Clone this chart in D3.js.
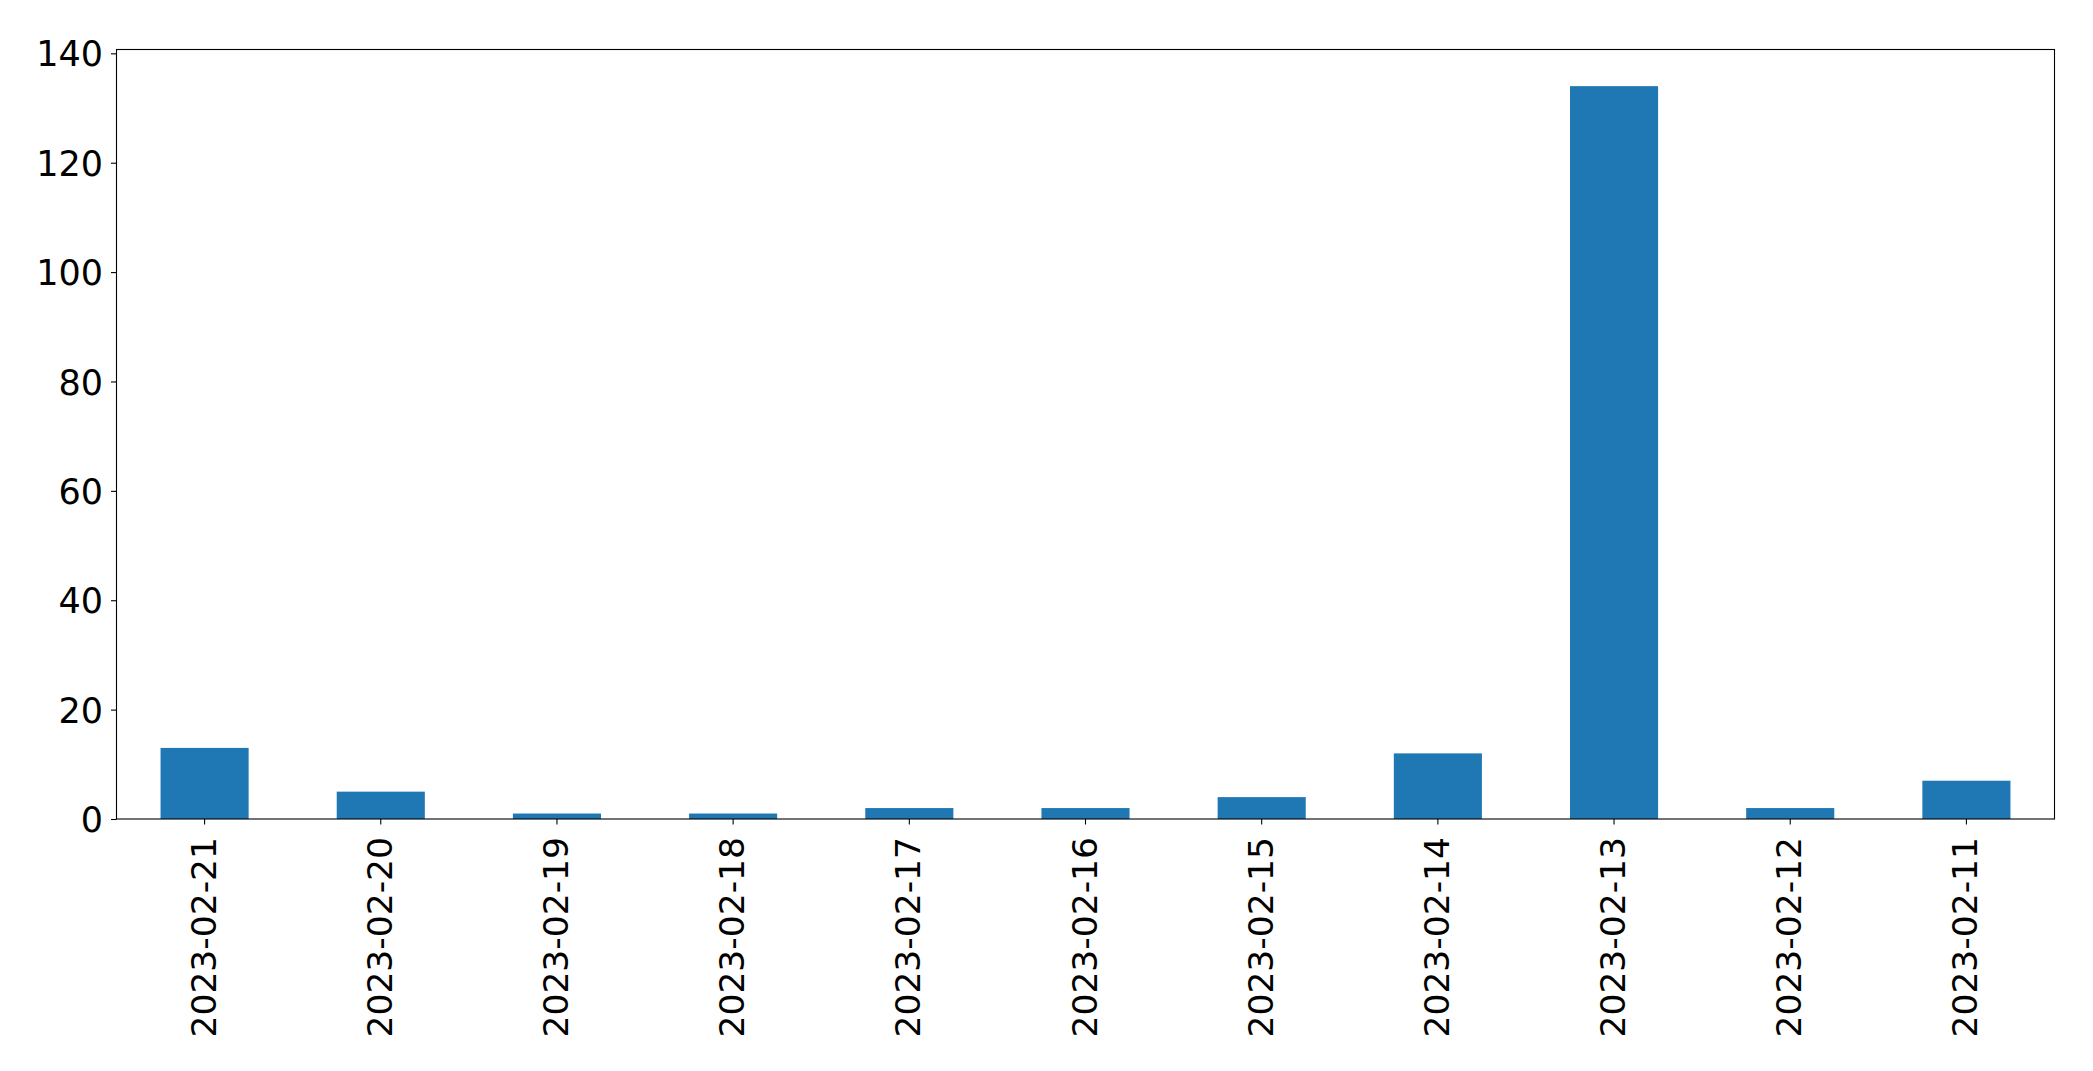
<!DOCTYPE html>
<html><head><meta charset="utf-8">
<script src="https://d3js.org/d3.v7.min.js"></script>
<style>body{margin:0;background:#fff}svg{display:block}text{font-family:"DejaVu Sans",sans-serif}</style>
</head><body>
<svg id="c" width="2093" height="1071"></svg>
<script>
const categories = ["2023-02-21","2023-02-20","2023-02-19","2023-02-18","2023-02-17","2023-02-16","2023-02-15","2023-02-14","2023-02-13","2023-02-12","2023-02-11"];
const values = [13,5,1,1,2,2,4,12,134,2,7];
const yTicks = [0,20,40,60,80,100,120,140];

const svg = d3.select("#c");
const L=116.5, R=2054.5, T=49.5, B=819;
const x = d3.scaleBand().domain(categories).range([L,R]).paddingInner(0.5).paddingOuter(0.25);
const y = d3.scaleLinear().domain([0, d3.max(values)*1.05]).range([B,T]);

svg.append("g").selectAll("rect").data(values).join("rect")
  .attr("x",(d,i)=>x(categories[i])).attr("width",x.bandwidth())
  .attr("y",d=>y(d)).attr("height",d=>B-y(d)).attr("fill","#1f77b4");

svg.append("rect").attr("x",L).attr("y",T).attr("width",R-L).attr("height",B-T)
  .attr("fill","none").attr("stroke","#000").attr("stroke-width",1.1);

const ya = svg.append("g").attr("transform",`translate(${L},0)`)
  .call(d3.axisLeft(y).tickValues(yTicks).tickSize(5.5).tickPadding(8).tickFormat(d3.format("d")));
ya.select(".domain").remove();
ya.selectAll("line").attr("stroke","#000").attr("stroke-width",1.1);
ya.selectAll("text").attr("font-size",35).attr("fill","#000").attr("dy","0.36em");

const xa = svg.append("g").attr("transform",`translate(0,${B})`)
  .call(d3.axisBottom(x).tickSize(5.5).tickPadding(8));
xa.select(".domain").remove();
xa.selectAll("line").attr("stroke","#000").attr("stroke-width",1.1);
xa.selectAll("text").attr("font-size",34.5).attr("fill","#000")
  .attr("text-anchor","end").attr("dy",null).attr("y",0)
  .attr("transform","translate(-1,18) rotate(-90)").attr("dominant-baseline","central");
</script>
</body></html>
